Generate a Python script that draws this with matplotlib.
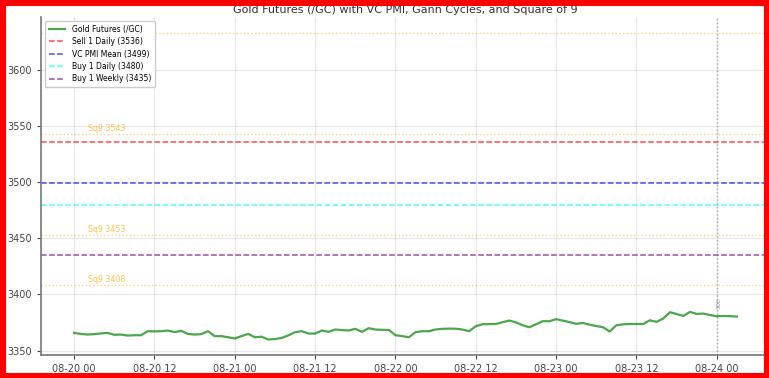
import numpy as np
import pandas as pd
import matplotlib
matplotlib.use("Agg")
import matplotlib.pyplot as plt
from matplotlib.patches import Rectangle

# hourly closes, 08-20 00:00 -> 08-24 03:00
prices = [
    3365.7, 3364.8, 3364.2, 3364.6, 3365.2, 3365.7, 3364.0, 3364.2, 3363.3, 3363.6,
    3363.6, 3367.2, 3367.0, 3367.2, 3367.8, 3366.4, 3367.5, 3364.8, 3364.2, 3364.6,
    3367.2, 3362.8, 3362.8, 3361.8, 3360.7, 3362.8, 3364.8, 3361.8, 3362.3, 3359.8,
    3360.2, 3361.2, 3363.5, 3366.3, 3367.2, 3365.1, 3365.1, 3367.8, 3366.6, 3368.7,
    3368.2, 3367.8, 3369.3, 3366.6, 3369.9, 3368.7, 3368.4, 3368.3, 3363.6, 3362.8,
    3361.8, 3366.3, 3367.2, 3367.2, 3368.7, 3369.3, 3369.5, 3369.4, 3368.7, 3367.2,
    3371.6, 3373.4, 3373.5, 3373.6, 3375.2, 3376.7, 3375.0, 3372.5, 3370.7, 3373.4,
    3376.1, 3376.1, 3377.9, 3376.6, 3375.3, 3373.8, 3374.5, 3373.0, 3371.8, 3370.8,
    3366.9, 3372.5, 3373.3, 3373.6, 3373.6, 3373.6, 3376.9, 3375.5, 3378.5, 3384.1,
    3382.5, 3380.8, 3384.4, 3382.6, 3382.9, 3381.6, 3380.5, 3380.8, 3380.6, 3380.2,
]
dates = pd.date_range("2025-08-20 00:00", periods=len(prices), freq="h")

level_names = ["Sell 1 Daily", "VC PMI Mean", "Buy 1 Daily", "Buy 1 Weekly"]
level_values = [3536, 3499, 3480, 3435]
level_colors = ["red", "blue", "cyan", "purple"]

sq9_levels = [3408, 3453, 3543, 3633]
gann_dates = [pd.Timestamp("2025-08-24 00:00")]
gann_labels = ["30E"]

fig = plt.figure(figsize=(7.69, 3.78), dpi=100)
ax = fig.add_axes([41 / 769, 1 - 355 / 378, 729 / 769, 338 / 378])

ax.plot(dates, prices, color="green", alpha=0.7, linewidth=1.6,
        label="Gold Futures (/GC)")

for name, val, col in zip(level_names, level_values, level_colors):
    ax.axhline(val, color=col, linestyle="--", linewidth=1.1, alpha=0.7,
               label=f"{name} ({val})")

for lvl in sq9_levels:
    ax.axhline(lvl, color="orange", linestyle=":", linewidth=1.0, alpha=0.5)
    ax.text(dates[2], lvl + 1, f"Sq9 {lvl}", color="orange", alpha=0.7,
            fontsize=5.7, va="bottom")

for d, lab in zip(gann_dates, gann_labels):
    ax.axvline(d, color="gray", linestyle=":", linewidth=1.0, alpha=0.6)
    ax.text(d, 3392, lab, rotation=90, color="gray", fontsize=4.5,
            va="center", ha="left", alpha=0.8)

ax.set_ylim(3346, 3647)
ax.set_title("Gold Futures (/GC) with VC PMI, Gann Cycles, and Square of 9",
             fontsize=8, color="#333333", pad=3)
ax.set_xlabel("Date", fontsize=7, color="#333333", labelpad=5)
ax.set_ylabel("Price", fontsize=7, color="#333333", labelpad=2)
ax.tick_params(labelsize=7, colors="#444444", length=3)
ax.xaxis.set_major_formatter(matplotlib.dates.DateFormatter("%m-%d %H"))
ax.grid(True, alpha=0.3)
ax.spines["top"].set_visible(False)
ax.spines["right"].set_visible(False)
for s in ["left", "bottom"]:
    ax.spines[s].set_color("#777777")
    ax.spines[s].set_linewidth(1.2)

leg = ax.legend(loc="upper left", fontsize=5.5, framealpha=1.0, handlelength=2.2,
                borderpad=0.5, labelspacing=0.45)
leg.set_zorder(10)

fig.patches.append(Rectangle((0, 0), 1, 1, transform=fig.transFigure,
                             fill=False, edgecolor="red", linewidth=8))

fig.savefig("out.png", dpi=100)
